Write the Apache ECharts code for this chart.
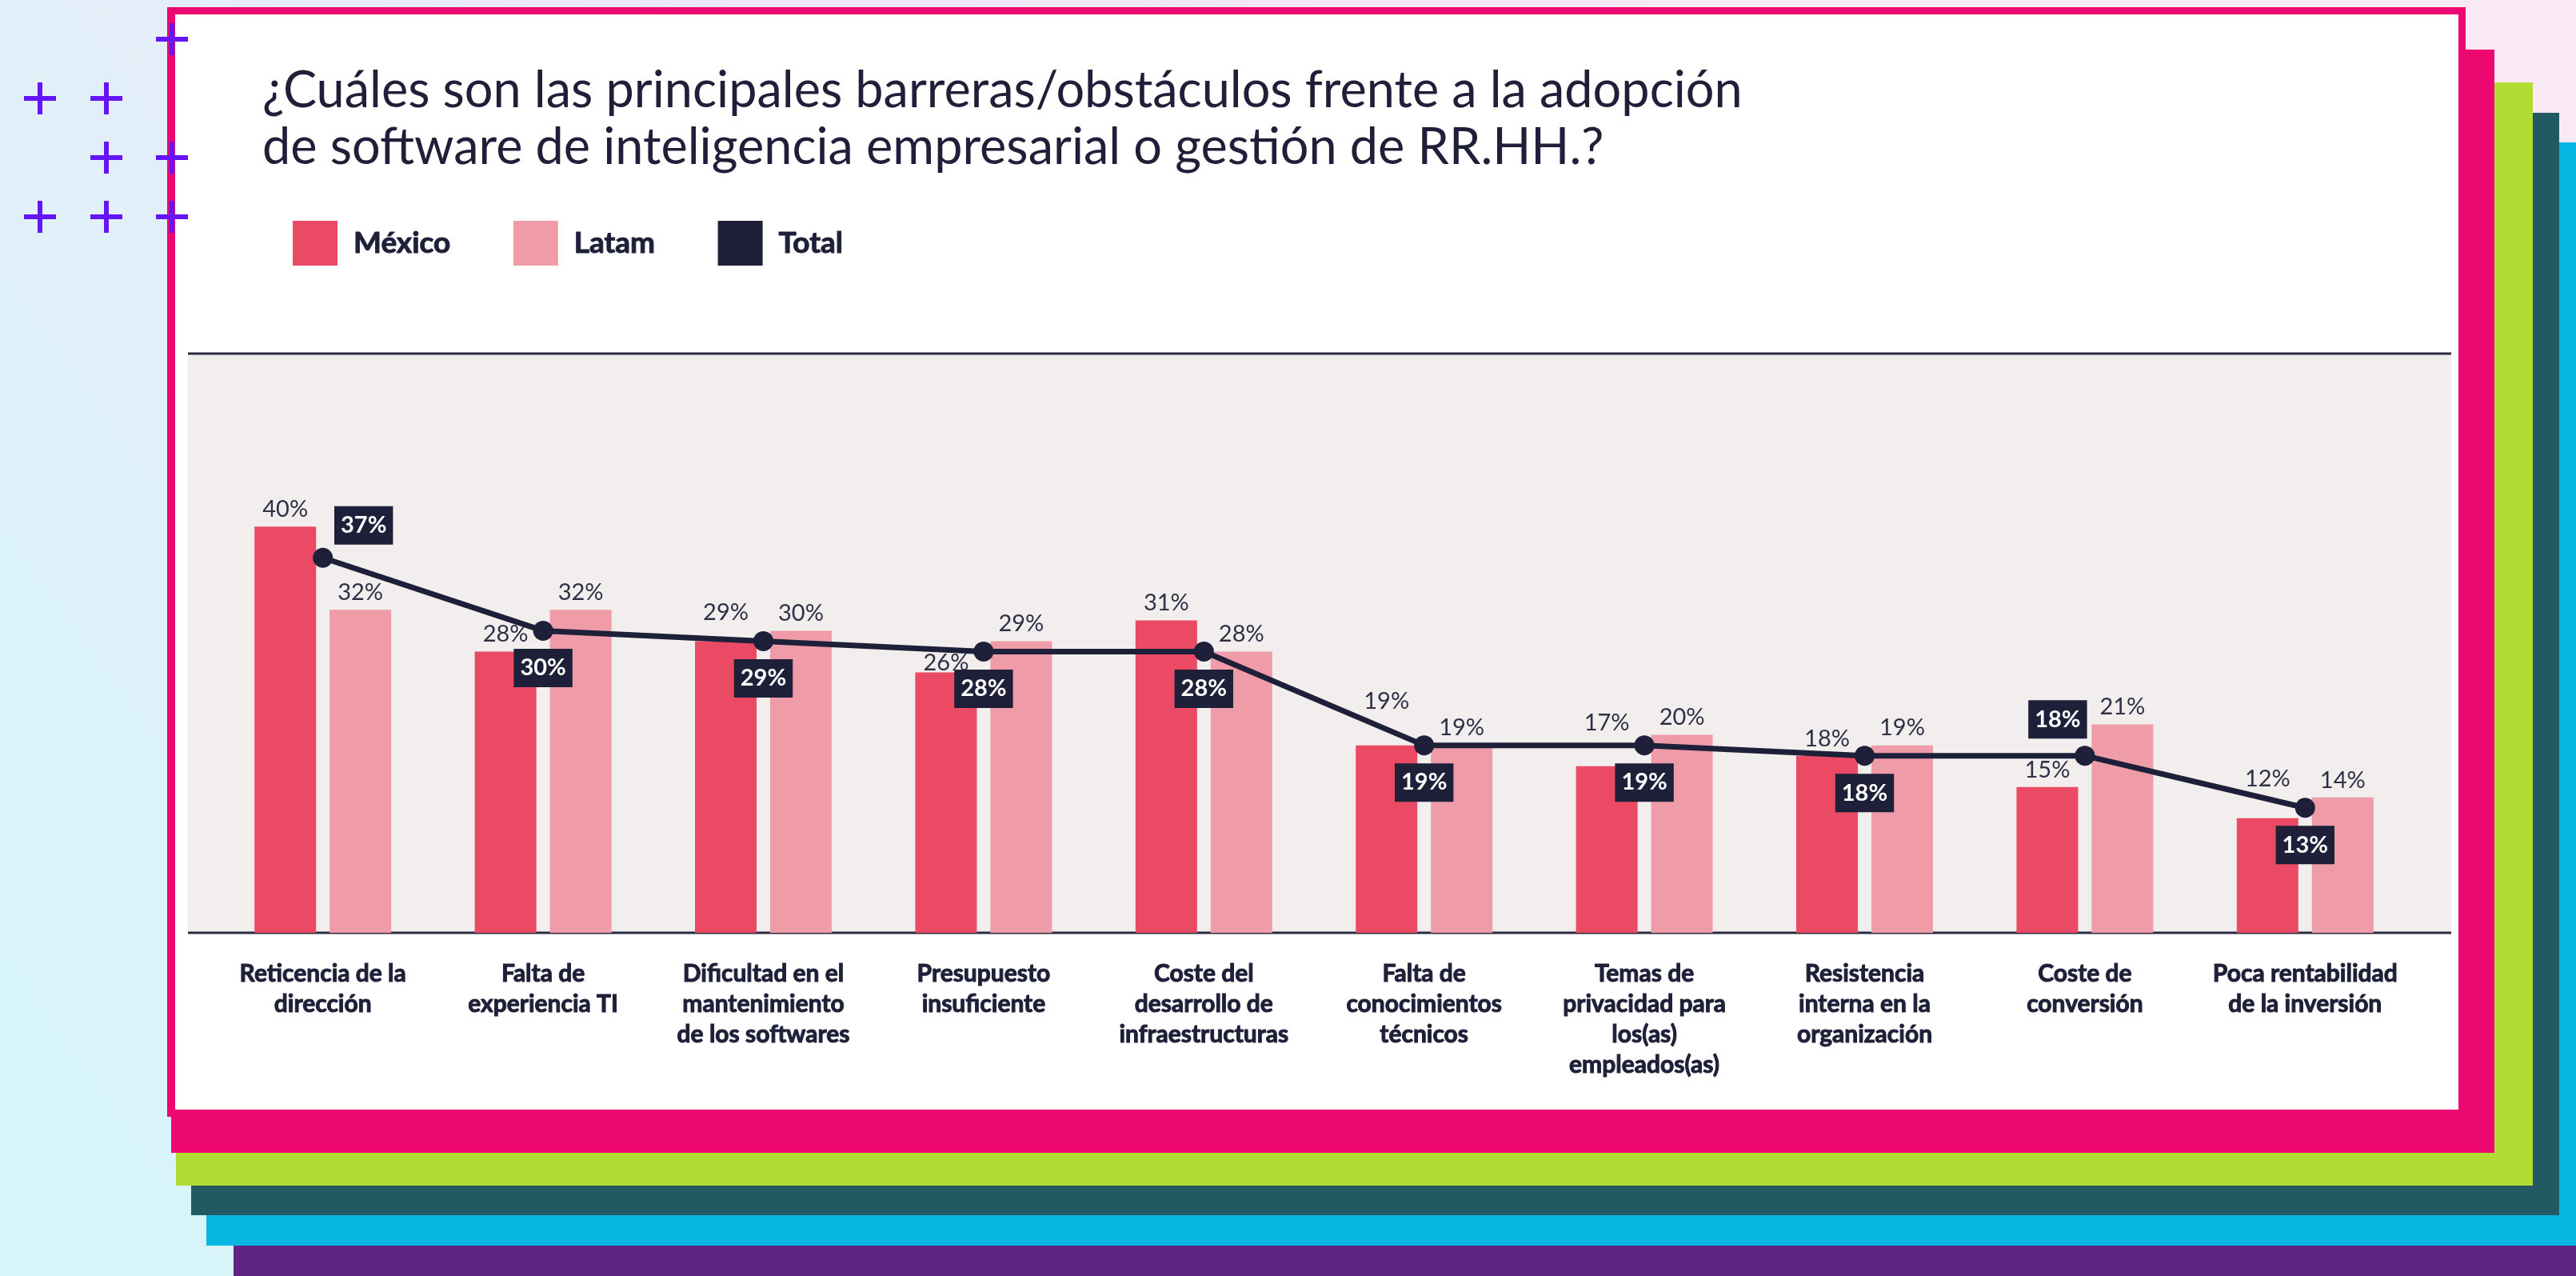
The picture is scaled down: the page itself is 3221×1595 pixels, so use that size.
<!DOCTYPE html>
<html>
<head>
<meta charset="utf-8">
<title>Barreras a la adopción de software</title>
<script src="https://cdn.jsdelivr.net/npm/echarts@6/dist/echarts.min.js"></script>
<style>
  html, body { margin: 0; padding: 0; background: #f3ecf6; }
  #chart { width: 3221px; height: 1595px; }
</style>
</head>
<body>
<div id="chart"></div>
<script>
// data read from the infographic
const categories = [
  'Reticencia de la\ndirección',
  'Falta de\nexperiencia TI',
  'Dificultad en el\nmantenimiento\nde los softwares',
  'Presupuesto\ninsuficiente',
  'Coste del\ndesarrollo de\ninfraestructuras',
  'Falta de\nconocimientos\ntécnicos',
  'Temas de\nprivacidad para\nlos(as)\nempleados(as)',
  'Resistencia\ninterna en la\norganización',
  'Coste de\nconversión',
  'Poca rentabilidad\nde la inversión'
]
const mexico = [40, 28, 29, 26, 31, 19, 17, 18, 15, 12]
const latam = [32, 32, 30, 29, 28, 19, 20, 19, 21, 14]
const total = [37, 30, 29, 28, 28, 19, 19, 18, 18, 13]
const seriesNames = ['México', 'Latam', 'Total']
const titleText = '¿Cuáles son las principales barreras/obstáculos frente a la adopción\nde software de inteligencia empresarial o gestión de RR.HH.?'

const font = 'Lato, "Noto Sans", sans-serif'
const navy = '#1e1f38'
const colors = {
  mexico: '#ea4a63',
  latam: '#f09ca8',
  total: navy
}

// label nudges so the values stay clear of the Total line, as in the original
const totalLabelOverride = {
  0: { position: 'top', distance: 4, offset: [51, 0] },
  8: { position: 'top', distance: 9, offset: [-34, 0] }
}
const mexicoLabelOverride = {
  2: { distance: 21 },
  3: { distance: -3 },
  5: { distance: 40 },
  6: { distance: 40 },
  9: { distance: 35 }
}

function withLabels(values, overrides) {
  return values.map((v, i) => overrides[i] ? { value: v, label: overrides[i] } : v)
}

function plus(cx, cy) {
  const style = { fill: '#6414f5' }
  return [
    { type: 'rect', z: 20, shape: { x: cx - 20, y: cy - 3, width: 40, height: 6 }, style },
    { type: 'rect', z: 20, shape: { x: cx - 3, y: cy - 20, width: 6, height: 40 }, style }
  ]
}

function box(x, y, x2, y2, fill) {
  return { type: 'rect', z: 1, silent: true, shape: { x: x, y: y, width: x2 - x, height: y2 - y }, style: { fill: fill } }
}

const decorations = [
  {
    type: 'rect', z: 0, silent: true,
    shape: { x: 0, y: 0, width: 3221, height: 1595 },
    style: {
      fill: new echarts.graphic.LinearGradient(0.7, 0, 0, 1, [
        { offset: 0, color: '#f9e9f4' },
        { offset: 0.35, color: '#efe6f5' },
        { offset: 0.6, color: '#e5eef8' },
        { offset: 1, color: '#d4f6fa' }
      ])
    }
  },
  box(292, 1500, 3221, 1595, '#602485'),
  box(258, 178, 3221, 1557, '#08b8e3'),
  box(239, 141, 3200, 1519, '#225a63'),
  box(220, 103, 3167, 1482, '#b1dc34'),
  box(214, 62, 3119, 1441, '#ec0870'),
  box(209, 9, 3083, 1396, '#ec0870'),
  box(219, 18, 3074, 1387, '#ffffff'),
  // plot panel
  box(235, 442, 3065, 1166, '#f1eeed'),
  { type: 'line', z: 1, silent: true, shape: { x1: 235, y1: 442, x2: 3065, y2: 442 }, style: { stroke: '#2a2b40', lineWidth: 3 } },
  { type: 'line', z: 1, silent: true, shape: { x1: 235, y1: 1166, x2: 3065, y2: 1166 }, style: { stroke: '#2a2b40', lineWidth: 3 } }
].concat(
  plus(215, 49), plus(50, 123), plus(133, 123), plus(133, 197),
  plus(215, 197), plus(50, 271), plus(133, 271), plus(215, 271)
)

const barLabel = {
  show: true,
  position: 'top',
  distance: 7,
  fontFamily: font,
  fontSize: 29,
  color: '#2f3046',
  formatter: '{c}%'
}

const option = {
  animation: false,
  textStyle: { fontFamily: font },
  graphic: { elements: decorations },
  title: {
    text: titleText,
    left: 328,
    top: 78,
    padding: 0,
    textStyle: {
      fontFamily: font,
      fontWeight: 'normal',
      fontSize: 63,
      lineHeight: 71,
      color: '#1f1f3a'
    }
  },
  legend: {
    data: seriesNames,
    left: 366,
    top: 276,
    padding: 0,
    icon: 'rect',
    itemWidth: 56,
    itemHeight: 56,
    itemGap: 78,
    selectedMode: false,
    textStyle: {
      fontFamily: font,
      fontWeight: 'bold',
      fontSize: 37,
      color: navy,
      textBorderColor: navy,
      textBorderWidth: 1,
      padding: [0, 0, 0, 15]
    }
  },
  grid: {
    left: 266,
    right: 201,
    top: 528,
    bottom: 429
  },
  xAxis: {
    type: 'category',
    data: categories,
    z: 10,
    axisLine: { show: false },
    axisTick: { show: false },
    axisLabel: {
      interval: 0,
      margin: 32,
      fontFamily: font,
      fontWeight: 'bold',
      fontSize: 30,
      lineHeight: 38,
      color: navy,
      textBorderColor: navy,
      textBorderWidth: 1,
      align: 'center'
    }
  },
  yAxis: {
    type: 'value',
    min: 1,
    max: 50,
    show: false
  },
  series: [
    {
      name: seriesNames[0],
      type: 'bar',
      data: withLabels(mexico, mexicoLabelOverride),
      barWidth: 77,
      barGap: '22%',
      clip: true,
      itemStyle: { color: colors.mexico },
      label: barLabel
    },
    {
      name: seriesNames[1],
      type: 'bar',
      data: latam,
      barWidth: 77,
      barGap: '22%',
      clip: true,
      itemStyle: { color: colors.latam },
      label: barLabel
    },
    {
      name: seriesNames[2],
      type: 'line',
      z: 5,
      data: withLabels(total, totalLabelOverride),
      symbol: 'circle',
      symbolSize: 25,
      itemStyle: { color: colors.total },
      lineStyle: { color: colors.total, width: 7 },
      label: {
        show: true,
        position: 'bottom',
        distance: 10,
        formatter: '{c}%',
        fontFamily: font,
        fontWeight: 'bold',
        fontSize: 29,
        lineHeight: 30,
        color: '#ffffff',
        backgroundColor: navy,
        padding: [9, 8]
      }
    }
  ]
}

const chart = echarts.init(document.getElementById('chart'))
chart.setOption(option)
window.addEventListener('resize', function() {
  chart.resize()
})
</script>
</body>
</html>
